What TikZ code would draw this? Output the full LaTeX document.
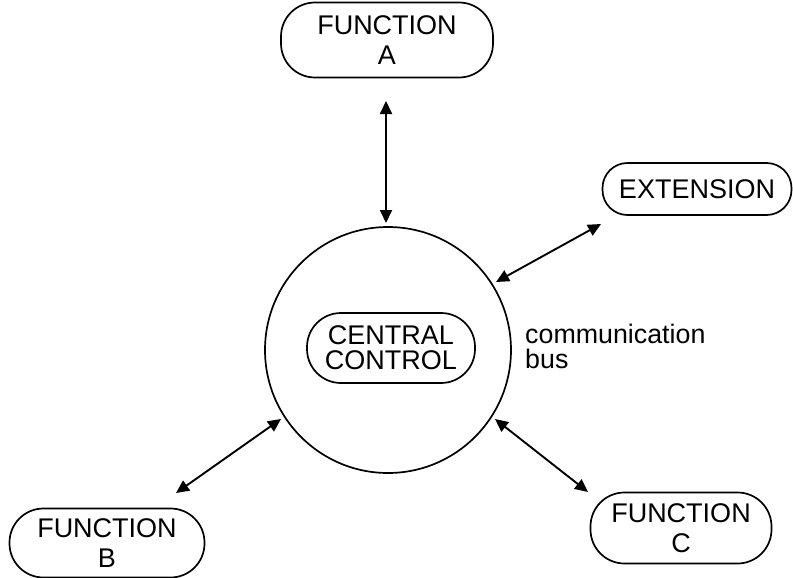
\documentclass[tikz,border=0pt]{standalone}
\usepackage{fontspec}
\setmainfont{Liberation Sans}
\usetikzlibrary{arrows.meta}
\begin{document}
\begin{tikzpicture}[x=1pt,y=-1pt,
  every node/.style={font=\fontsize{27}{29.5}\selectfont},
  pill/.style={draw,line width=1.7pt,rounded corners=34pt,align=center,inner sep=0pt},
  link/.style={line width=1.9pt,{Triangle[length=13pt,width=12pt]}-{Triangle[length=13pt,width=12pt]}}]
  \useasboundingbox (0,0) rectangle (793,578);
  % the functions around the central unit
  \node[pill,minimum width=212pt,minimum height=75pt] (fa) at (387,40) {FUNCTION\\A};
  \node[pill,minimum width=189pt,minimum height=52pt,rounded corners=25pt] (ext) at (697,189) {EXTENSION};
  \node[pill,minimum width=195pt,minimum height=69pt] (fb) at (107,543) {FUNCTION\\B};
  \node[pill,minimum width=181pt,minimum height=71pt] (fc) at (681,528) {FUNCTION\\C};
  % the communication bus ring and its controller
  \node[draw,circle,line width=1.7pt,minimum size=246pt,inner sep=0pt] (bus) at (388,350) {};
  \node[pill,minimum width=168pt,minimum height=70pt,font=\fontsize{27}{25}\selectfont] (cc) at (391,348) {CENTRAL\\CONTROL};
  \node[anchor=base west,align=left,inner sep=0pt,font=\fontsize{26.8}{25}\selectfont] (lbl) at (525,368) {communication\\bus};
  % end points of the links
  \coordinate (a1) at (386,101);
  \coordinate (a2) at (386,223);
  \coordinate (e1) at (601,224);
  \coordinate (e2) at (496,282);
  \coordinate (b1) at (176,493);
  \coordinate (b2) at (281,419);
  \coordinate (c1) at (588,492);
  \coordinate (c2) at (495,419);
  \draw[link] (a1) -- (a2);
  \draw[link] (e1) -- (e2);
  \draw[link] (b1) -- (b2);
  \draw[link] (c1) -- (c2);
\end{tikzpicture}
\end{document}
